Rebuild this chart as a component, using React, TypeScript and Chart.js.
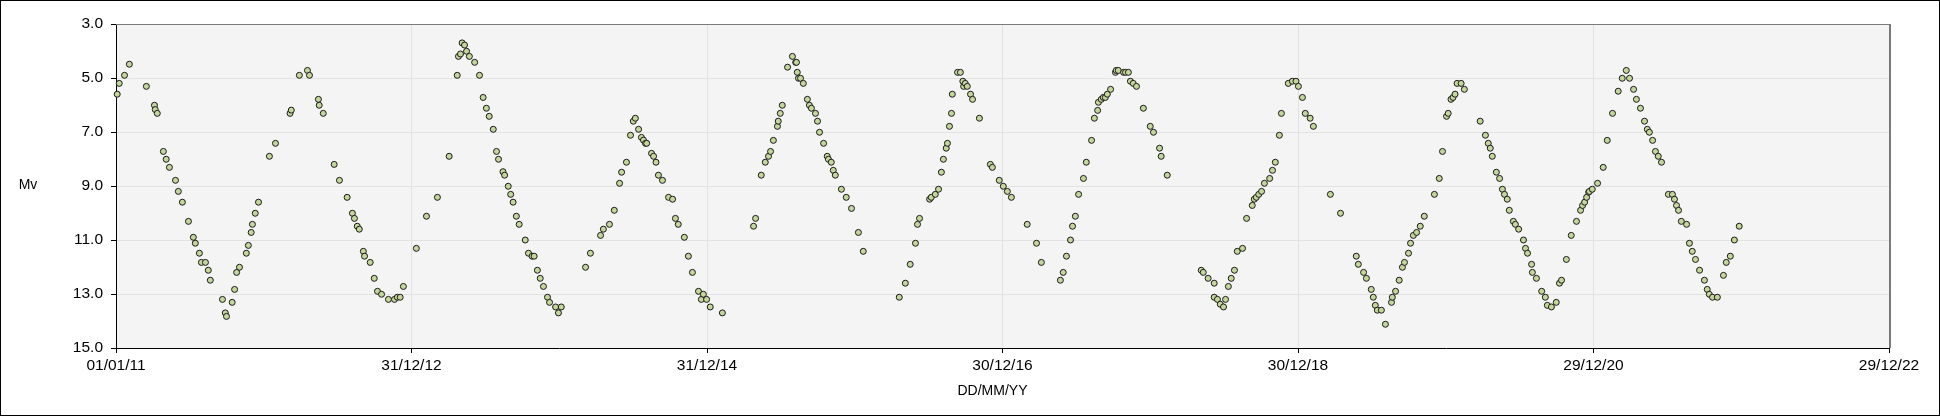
import React, { useEffect, useRef } from "react";
import { Chart, registerables } from "chart.js";

Chart.register(...registerables);

// ---- axis settings (data domain) ----
const startDateUTC = Date.UTC(2011, 0, 1); // day 0 = 01/01/11
const xMaxDays = 4380; // 29/12/22
const xTickStepDays = 730;
const yMin = 3;
const yMax = 15;
const yStep = 2;
const yTitle = "Mv";
const xTitle = "DD/MM/YY";

// ---- observations: days since 01/01/2011 ----
const obsDay = [
  3, 8, 21, 33, 75, 95, 97, 102, 117, 124, 132, 147, 154, 164, 179, 191, 196, 206, 211, 221, 228, 233, 263, 270, 273, 287, 293, 298, 305, 322, 327, 334, 337, 344, 352, 379, 394, 430, 433, 453, 473, 478, 500, 502, 512, 539, 552, 571, 584, 589, 596, 601, 611, 614, 628, 638, 646, 656, 673, 688, 695, 702, 710, 742,
  767, 794, 823, 843, 846, 851, 855, 861, 866, 873, 886, 898, 907, 915, 922, 932, 940, 945, 956, 960, 969, 975, 981, 989, 996, 1011, 1019, 1028, 1033, 1041, 1048, 1056, 1066, 1071, 1086, 1093, 1100,
  1160, 1172, 1197, 1204, 1219, 1231, 1244, 1249, 1261, 1271, 1278, 1283, 1291, 1298, 1303, 1308, 1311, 1323, 1328, 1334, 1340, 1350, 1365, 1375, 1382, 1389, 1404, 1414, 1424, 1439, 1446, 1451, 1459, 1468, 1498,
  1575, 1580, 1594, 1604, 1612, 1617, 1624, 1634, 1636, 1641, 1646, 1659, 1671, 1679, 1681, 1683, 1686, 1691, 1698, 1708, 1713, 1718, 1728, 1733, 1738, 1748, 1757, 1760, 1767, 1772, 1777, 1792, 1804, 1817, 1834, 1846,
  1935, 1950, 1962, 1975, 1980, 1985, 2010, 2014, 2024, 2032, 2039, 2044, 2051, 2054, 2059, 2064, 2066, 2079, 2086, 2092, 2094, 2098, 2103, 2111, 2116, 2133, 2160, 2165, 2182, 2192, 2202, 2212, 2251, 2274, 2286,
  2333, 2340, 2348, 2358, 2363, 2370, 2378, 2390, 2397, 2410, 2417, 2425, 2427, 2434, 2439, 2444, 2449, 2457, 2469, 2471, 2476, 2489, 2494, 2501, 2506, 2513, 2521, 2538, 2555, 2563, 2578, 2582, 2597,
  2681, 2686, 2698, 2713, 2713, 2721, 2728, 2736, 2741, 2748, 2755, 2763, 2770, 2783, 2793, 2807, 2812, 2817, 2823, 2830, 2837, 2850, 2857, 2864, 2874, 2879, 2896, 2906, 2915, 2921, 2931, 2938, 2950, 2958, 3000, 3025,
  3064, 3069, 3082, 3089, 3101, 3106, 3111, 3116, 3126, 3136, 3151, 3153, 3161, 3170, 3178, 3183, 3193, 3198, 3205, 3213, 3222, 3232, 3257, 3269, 3277, 3287, 3291, 3298, 3303, 3308, 3313, 3323, 3331,
  3370, 3383, 3390, 3395, 3400, 3410, 3418, 3425, 3430, 3437, 3442, 3452, 3457, 3465, 3477, 3482, 3487, 3497, 3499, 3509, 3522, 3531, 3536, 3546, 3558, 3566, 3571, 3583, 3595, 3608, 3618, 3623, 3628, 3633, 3638, 3640, 3647, 3660, 3674, 3684, 3697, 3711,
  3721, 3731, 3739, 3749, 3756, 3766, 3776, 3783, 3788, 3796, 3803, 3810, 3818, 3835, 3845, 3850, 3855, 3860, 3867, 3880, 3887, 3894, 3902, 3912, 3924, 3931, 3936, 3944, 3956, 3971, 3978, 3988, 3998, 4010,
];

// ---- observations: visual magnitude ----
const obsMv = [
  5.6, 5.2, 4.9, 4.49, 5.31, 6.01, 6.17, 6.31, 7.72, 8.01, 8.31, 8.79, 9.2, 9.6, 10.31, 10.9, 11.12, 11.49, 11.83, 11.83, 12.12, 12.49, 13.2, 13.7, 13.83, 13.31, 12.83, 12.2, 12.01, 11.49, 11.2, 10.72, 10.42, 10.01, 9.6, 7.9, 7.42, 6.31, 6.19, 4.9, 4.72, 4.9, 5.79, 6.01, 6.31, 8.2, 8.79, 9.42, 10.01, 10.2, 10.49, 10.6, 11.42, 11.6, 11.83, 12.42, 12.9, 13.01, 13.2, 13.2, 13.12, 13.12, 12.72, 11.31,
  10.12, 9.42, 7.9, 4.9, 4.2, 4.11, 3.7, 3.78, 4.01, 4.2, 4.42, 4.9, 5.72, 6.12, 6.42, 6.9, 7.72, 8.01, 8.47, 8.6, 9.01, 9.31, 9.6, 10.12, 10.42, 11.0, 11.49, 11.6, 11.6, 12.12, 12.42, 12.72, 13.12, 13.31, 13.48, 13.7, 13.48,
  12.01, 11.49, 10.83, 10.6, 10.42, 9.9, 8.9, 8.49, 8.12, 7.12, 6.6, 6.49, 6.9, 7.2, 7.3, 7.42, 7.42, 7.79, 7.9, 8.12, 8.6, 8.79, 9.42, 9.49, 10.2, 10.42, 10.9, 11.6, 12.2, 12.9, 13.2, 13.01, 13.2, 13.48, 13.7,
  10.49, 10.2, 8.6, 8.12, 7.9, 7.72, 7.31, 6.79, 6.6, 6.31, 6.01, 4.6, 4.2, 4.42, 4.42, 4.79, 5.01, 5.01, 5.2, 5.79, 6.01, 6.12, 6.31, 6.6, 7.01, 7.42, 7.9, 8.01, 8.12, 8.42, 8.6, 9.12, 9.42, 9.83, 10.72, 11.42,
  13.12, 12.6, 11.9, 11.12, 10.42, 10.2, 9.49, 9.42, 9.31, 9.12, 8.49, 8.01, 7.6, 7.42, 6.79, 6.31, 5.6, 4.79, 4.79, 5.12, 5.31, 5.2, 5.31, 5.6, 5.79, 6.49, 8.2, 8.31, 8.79, 9.01, 9.2, 9.42, 10.42, 11.12, 11.83,
  12.49, 12.2, 11.6, 11.0, 10.49, 10.12, 9.31, 8.72, 8.12, 7.31, 6.49, 6.2, 5.9, 5.79, 5.72, 5.72, 5.6, 5.42, 4.79, 4.72, 4.72, 4.79, 4.79, 4.79, 5.12, 5.2, 5.31, 6.12, 6.79, 7.01, 7.6, 7.9, 8.6,
  12.12, 12.2, 12.42, 12.6, 13.12, 13.2, 13.38, 13.48, 13.2, 12.72, 12.42, 12.12, 11.42, 11.31, 10.2, 9.72, 9.49, 9.42, 9.31, 9.2, 8.9, 8.72, 8.42, 8.12, 7.12, 6.31, 5.2, 5.12, 5.12, 5.31, 5.72, 6.31, 6.49, 6.79, 9.31, 10.01,
  11.6, 11.9, 12.2, 12.42, 12.83, 13.12, 13.42, 13.6, 13.6, 14.12, 13.31, 13.12, 12.9, 12.49, 12.01, 11.83, 11.49, 11.12, 10.83, 10.72, 10.49, 10.12, 9.31, 8.72, 7.72, 6.42, 6.31, 5.79, 5.72, 5.6, 5.2, 5.2, 5.42,
  6.6, 7.12, 7.42, 7.6, 7.9, 8.49, 8.72, 9.12, 9.31, 9.49, 9.9, 10.31, 10.42, 10.6, 11.0, 11.31, 11.49, 11.9, 12.2, 12.42, 12.9, 13.12, 13.42, 13.48, 13.31, 12.6, 12.49, 11.72, 10.83, 10.31, 9.9, 9.72, 9.6, 9.42, 9.23, 9.2, 9.12, 8.9, 8.31, 7.31, 6.31, 5.49,
  5.01, 4.72, 5.01, 5.42, 5.79, 6.12, 6.6, 6.9, 7.01, 7.31, 7.72, 7.9, 8.12, 9.31, 9.31, 9.49, 9.72, 9.9, 10.31, 10.42, 11.12, 11.42, 11.72, 12.12, 12.49, 12.83, 13.01, 13.12, 13.12, 12.31, 11.83, 11.6, 11.0, 10.49,
];

const FONT = "'Liberation Sans', Arial, sans-serif";

function formatDay(d: number): string {
  const dt = new Date(startDateUTC + Math.round(d) * 86400000);
  const dd = String(dt.getUTCDate()).padStart(2, "0");
  const mm = String(dt.getUTCMonth() + 1).padStart(2, "0");
  const yy = String(dt.getUTCFullYear() % 100).padStart(2, "0");
  return `${dd}/${mm}/${yy}`;
}

export default function App() {
  const canvasRef = useRef<HTMLCanvasElement | null>(null);

  useEffect(() => {
    document.body.style.margin = "0";
    const canvas = canvasRef.current;
    if (!canvas) return;

    const framePlugin = {
      id: "frame",
      beforeDraw(chart: any) {
        const { ctx, chartArea: a } = chart;
        ctx.save();
        ctx.fillStyle = "#ffffff";
        ctx.fillRect(0, 0, chart.width, chart.height);
        ctx.fillStyle = "#f4f4f4";
        ctx.fillRect(a.left, a.top, a.right - a.left, a.bottom - a.top);
        ctx.restore();
      },
      afterDraw(chart: any) {
        const { ctx, chartArea: a } = chart;
        ctx.save();
        ctx.fillStyle = "#7a7a7a";
        ctx.fillRect(a.left, a.top, a.right - a.left + 1, 1);
        ctx.fillRect(a.right, a.top, 2, a.bottom - a.top);
        ctx.fillStyle = "#000000";
        ctx.font = `14px ${FONT}`;
        ctx.textAlign = "center";
        ctx.textBaseline = "middle";
        ctx.fillText(yTitle, 27, (a.top + a.bottom) / 2 - 1);
        ctx.fillText(xTitle, (a.left + a.right) / 2 - 10, 390);
        ctx.restore();
      },
    };

    const points = obsDay.map((d, i) => ({ x: d, y: obsMv[i] }));

    const chart = new Chart(canvas, {
      type: "scatter",
      data: {
        datasets: [
          {
            label: "Mv",
            data: points,
            clip: false,
            pointRadius: 3,
            pointHoverRadius: 3,
            pointBorderWidth: 1,
            pointBackgroundColor: "#c4d79b",
            pointBorderColor: "#1a1a1a",
            showLine: false,
          },
        ],
      },
      options: {
        responsive: false,
        animation: false,
        devicePixelRatio: 1,
        layout: { padding: { left: 0, top: 23, right: 50, bottom: 0 } },
        plugins: {
          legend: { display: false },
          tooltip: { enabled: false },
          title: { display: false },
        },
        scales: {
          x: {
            type: "linear",
            min: 0,
            max: xMaxDays,
            afterFit(scale: any) {
              scale.height = 67;
            },
            afterBuildTicks(scale: any) {
              const t = [];
              for (let v = 0; v <= xMaxDays; v += xTickStepDays) t.push({ value: v });
              scale.ticks = t;
            },
            ticks: {
              stepSize: xTickStepDays,
              autoSkip: false,
              maxRotation: 0,
              color: "#000",
              padding: 3,
              font: { family: FONT, size: 15.5 },
              callback: (v: any) => formatDay(Number(v)),
            },
            grid: {
              color: "#e2e2e2",
              tickColor: "#000",
              tickLength: 5,
              drawTicks: true,
            },
            border: { color: "#000", width: 1 },
          },
          y: {
            type: "linear",
            reverse: true,
            min: yMin,
            max: yMax,
            afterFit(scale: any) {
              scale.width = 115;
            },
            ticks: {
              stepSize: yStep,
              color: "#000",
              padding: 8,
              font: { family: FONT, size: 15.5 },
              callback: (v: any) => Number(v).toFixed(1),
            },
            grid: {
              color: "#e2e2e2",
              tickColor: "#000",
              tickLength: 5,
              drawTicks: true,
            },
            border: { color: "#000", width: 1 },
          },
        },
      },
      plugins: [framePlugin],
    });

    return () => {
      chart.destroy();
    };
  }, []);

  return (
    <div
      style={{
        width: 1940,
        height: 416,
        border: "1px solid #000",
        boxSizing: "border-box",
        background: "#fff",
      }}
    >
      <canvas ref={canvasRef} width={1938} height={414} style={{ display: "block", width: 1938, height: 414 }} />
    </div>
  );
}
